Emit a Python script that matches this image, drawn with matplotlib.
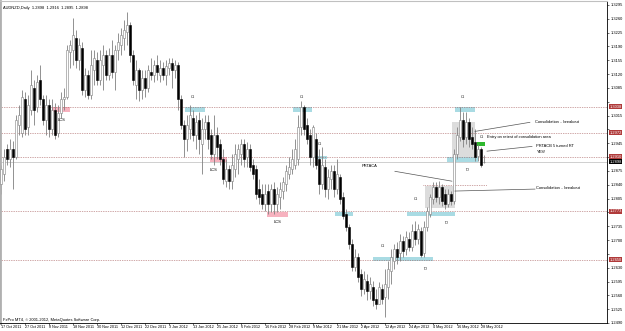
import matplotlib
matplotlib.use("Agg")
import matplotlib.pyplot as plt
from matplotlib.patches import Rectangle
from matplotlib.transforms import blended_transform_factory

plt.rcParams['font.family'] = ['Liberation Sans', 'DejaVu Sans']

symbol = "AUDNZD,Daily"
last_ohlc = [1.2898, 1.2916, 1.2895, 1.2898]

date_labels = ["17 Oct 2011", "27 Oct 2011", "8 Nov 2011", "18 Nov 2011", "30 Nov 2011",
               "12 Dec 2011", "22 Dec 2011", "3 Jan 2012", "13 Jan 2012", "25 Jan 2012",
               "6 Feb 2012", "16 Feb 2012", "28 Feb 2012", "9 Mar 2012", "21 Mar 2012",
               "2 Apr 2012", "12 Apr 2012", "24 Apr 2012", "4 May 2012", "16 May 2012",
               "28 May 2012"]

opens = [1.2841, 1.2866, 1.2930, 1.2904, 1.2930, 1.2910, 1.2992, 1.2972, 1.3056, 1.2985,
         1.3030, 1.3086, 1.3036, 1.3106, 1.3056, 1.3005, 1.3043, 1.2980, 1.3030, 1.2972,
         1.3022, 1.3056, 1.3063, 1.3177, 1.3182, 1.3212, 1.3156, 1.3187, 1.3081, 1.3118,
         1.3068, 1.3131, 1.3156, 1.3106, 1.3143, 1.3169, 1.3118, 1.3169, 1.3126, 1.3182,
         1.3194, 1.3212, 1.3227, 1.3244, 1.3169, 1.3093, 1.3131, 1.3081, 1.3111, 1.3086,
         1.3126, 1.3118, 1.3143, 1.3118, 1.3136, 1.3118, 1.3136, 1.3148, 1.3131, 1.3143,
         1.3056, 1.2992, 1.2955, 1.2980, 1.3010, 1.2967, 1.3005, 1.2942, 1.2980, 1.3000,
         1.2967, 1.2917, 1.2967, 1.2942, 1.2904, 1.2849, 1.2879, 1.2849, 1.2879, 1.2904,
         1.2917, 1.2942, 1.2910, 1.2930, 1.2891, 1.2879, 1.2829, 1.2816, 1.2791, 1.2824,
         1.2791, 1.2829, 1.2791, 1.2809, 1.2824, 1.2841, 1.2866, 1.2879, 1.2891, 1.2904,
         1.2985, 1.3036, 1.2992, 1.2967, 1.2910, 1.2955, 1.2904, 1.2841, 1.2884, 1.2829,
         1.2854, 1.2874, 1.2829, 1.2859, 1.2809, 1.2766, 1.2733, 1.2691, 1.2632, 1.2658,
         1.2614, 1.2577, 1.2597, 1.2572, 1.2582, 1.2552, 1.2539, 1.2577, 1.2557, 1.2582,
         1.2622, 1.2647, 1.2678, 1.2666, 1.2698, 1.2678, 1.2703, 1.2683, 1.2723, 1.2703,
         1.2723, 1.2666, 1.2733, 1.2766, 1.2804, 1.2834, 1.2809, 1.2834, 1.2816, 1.2791,
         1.2816, 1.2799, 1.2917, 1.2962, 1.3005, 1.2960, 1.3000, 1.2960, 1.2947, 1.2912,
         1.2930, 1.2898]

highs = [1.2891, 1.2930, 1.2942, 1.2955, 1.2950, 1.3017, 1.3043, 1.3081, 1.3076, 1.3068,
         1.3131, 1.3106, 1.3118, 1.3143, 1.3068, 1.3068, 1.3056, 1.3056, 1.3048, 1.3043,
         1.3076, 1.3086, 1.3194, 1.3207, 1.3262, 1.3232, 1.3212, 1.3202, 1.3136, 1.3131,
         1.3182, 1.3182, 1.3177, 1.3182, 1.3194, 1.3182, 1.3187, 1.3207, 1.3194, 1.3224,
         1.3237, 1.3257, 1.3277, 1.3252, 1.3182, 1.3156, 1.3136, 1.3131, 1.3131, 1.3143,
         1.3162, 1.3156, 1.3169, 1.3156, 1.3151, 1.3156, 1.3162, 1.3162, 1.3156, 1.3151,
         1.3068, 1.3005, 1.3017, 1.3043, 1.3030, 1.3017, 1.3025, 1.3010, 1.3017, 1.3017,
         1.2980, 1.3017, 1.2985, 1.2955, 1.2930, 1.2904, 1.2891, 1.2917, 1.2942, 1.2942,
         1.2955, 1.2955, 1.2947, 1.2942, 1.2904, 1.2891, 1.2854, 1.2841, 1.2841, 1.2841,
         1.2841, 1.2847, 1.2834, 1.2847, 1.2859, 1.2891, 1.2910, 1.2930, 1.2955, 1.3017,
         1.3051, 1.3043, 1.3010, 1.2980, 1.2992, 1.2972, 1.2930, 1.2935, 1.2904, 1.2879,
         1.2891, 1.2891, 1.2904, 1.2866, 1.2822, 1.2778, 1.2741, 1.2703, 1.2678, 1.2666,
         1.2627, 1.2622, 1.2614, 1.2607, 1.2597, 1.2577, 1.2594, 1.2589, 1.2627, 1.2647,
         1.2678, 1.2691, 1.2696, 1.2716, 1.2711, 1.2723, 1.2721, 1.2741, 1.2748, 1.2741,
         1.2733, 1.2748, 1.2784, 1.2816, 1.2847, 1.2847, 1.2849, 1.2841, 1.2829, 1.2829,
         1.2824, 1.2930, 1.2985, 1.3038, 1.3025, 1.3025, 1.3010, 1.2987, 1.2980, 1.2942,
         1.2935, 1.2916]

lows = [1.2816, 1.2849, 1.2891, 1.2884, 1.2829, 1.2904, 1.2967, 1.2962, 1.2967, 1.2967,
        1.3017, 1.2992, 1.3025, 1.3043, 1.2992, 1.2967, 1.2960, 1.2967, 1.2955, 1.2962,
        1.3010, 1.3030, 1.3056, 1.3136, 1.3143, 1.3136, 1.3131, 1.3068, 1.3061, 1.3056,
        1.3056, 1.3093, 1.3093, 1.3093, 1.3081, 1.3106, 1.3106, 1.3111, 1.3081, 1.3156,
        1.3169, 1.3182, 1.3194, 1.3151, 1.3093, 1.3056, 1.3051, 1.3056, 1.3061, 1.3076,
        1.3106, 1.3101, 1.3106, 1.3101, 1.3106, 1.3093, 1.3118, 1.3086, 1.3111, 1.3030,
        1.2980, 1.2910, 1.2925, 1.2955, 1.2950, 1.2930, 1.2917, 1.2866, 1.2955, 1.2930,
        1.2904, 1.2891, 1.2904, 1.2891, 1.2841, 1.2834, 1.2829, 1.2829, 1.2859, 1.2866,
        1.2891, 1.2884, 1.2884, 1.2874, 1.2854, 1.2804, 1.2791, 1.2778, 1.2773, 1.2766,
        1.2771, 1.2766, 1.2771, 1.2778, 1.2804, 1.2824, 1.2854, 1.2866, 1.2879, 1.2891,
        1.2967, 1.2967, 1.2942, 1.2891, 1.2884, 1.2879, 1.2816, 1.2829, 1.2809, 1.2804,
        1.2829, 1.2809, 1.2816, 1.2791, 1.2753, 1.2723, 1.2678, 1.2622, 1.2622, 1.2594,
        1.2559, 1.2564, 1.2547, 1.2552, 1.2532, 1.2526, 1.2537, 1.2539, 1.2506, 1.2552,
        1.2589, 1.2627, 1.2639, 1.2647, 1.2658, 1.2663, 1.2673, 1.2673, 1.2688, 1.2691,
        1.2658, 1.2658, 1.2723, 1.2758, 1.2791, 1.2796, 1.2791, 1.2786, 1.2778, 1.2784,
        1.2789, 1.2791, 1.2904, 1.2950, 1.2935, 1.2942, 1.2935, 1.2930, 1.2899, 1.2899,
        1.2884, 1.2895]

closes = [1.2879, 1.2910, 1.2904, 1.2930, 1.2910, 1.3005, 1.3017, 1.3063, 1.2980, 1.3043,
          1.3093, 1.3030, 1.3101, 1.3056, 1.3005, 1.3043, 1.2980, 1.3030, 1.2967, 1.3022,
          1.3056, 1.3063, 1.3182, 1.3194, 1.3219, 1.3156, 1.3194, 1.3081, 1.3118, 1.3068,
          1.3143, 1.3162, 1.3106, 1.3156, 1.3169, 1.3118, 1.3169, 1.3126, 1.3182, 1.3202,
          1.3219, 1.3232, 1.3244, 1.3169, 1.3106, 1.3131, 1.3081, 1.3111, 1.3086, 1.3131,
          1.3118, 1.3143, 1.3126, 1.3136, 1.3118, 1.3141, 1.3148, 1.3131, 1.3143, 1.3056,
          1.2992, 1.2955, 1.2992, 1.3017, 1.2967, 1.3000, 1.2955, 1.2980, 1.3000, 1.2955,
          1.2917, 1.2967, 1.2935, 1.2904, 1.2854, 1.2879, 1.2849, 1.2891, 1.2917, 1.2930,
          1.2942, 1.2904, 1.2930, 1.2886, 1.2866, 1.2816, 1.2809, 1.2791, 1.2816, 1.2791,
          1.2829, 1.2791, 1.2816, 1.2829, 1.2847, 1.2874, 1.2884, 1.2904, 1.2930, 1.2985,
          1.3038, 1.2980, 1.2955, 1.2910, 1.2985, 1.2891, 1.2841, 1.2891, 1.2829, 1.2859,
          1.2874, 1.2829, 1.2866, 1.2804, 1.2761, 1.2733, 1.2691, 1.2632, 1.2658, 1.2607,
          1.2577, 1.2602, 1.2572, 1.2589, 1.2547, 1.2539, 1.2582, 1.2552, 1.2589, 1.2627,
          1.2658, 1.2678, 1.2658, 1.2698, 1.2673, 1.2708, 1.2683, 1.2723, 1.2703, 1.2728,
          1.2663, 1.2733, 1.2773, 1.2809, 1.2834, 1.2809, 1.2834, 1.2799, 1.2791, 1.2816,
          1.2799, 1.2917, 1.2967, 1.3005, 1.2955, 1.3000, 1.2955, 1.2942, 1.2910, 1.2930,
          1.2891, 1.2898]

# horizontal levels drawn by hand in the terminal
levels = [1.3038, 1.2972, 1.2910, 1.2773, 1.2650]
bid = 1.2898

# zones: (first bar, last bar, low price, high price)
lcs_zones = [(17, 23, 1.3023, 1.3036), (69.7, 75.3, 1.2898, 1.2910), (88.7, 95.7, 1.2758, 1.2771)]
lcs_text = [(20.3, 1.3003), (70.7, 1.2877), (92.3, 1.2746)]
blue_zones = [(61.3, 68, 1.3023, 1.3036), (97.3, 103.7, 1.3023, 1.3036), (104.7, 108.7, 1.2904, 1.2912),
              (111.3, 117.3, 1.2761, 1.2771), (124, 144, 1.2647, 1.2658), (135.3, 151.3, 1.2761, 1.2771),
              (148.7, 159, 1.2897, 1.2910), (151.3, 158, 1.3023, 1.3036)]
grey_zones = [(141.3, 151.3, 1.2781, 1.2836), (150.3, 158, 1.2910, 1.3000)]
green_zone = (158.7, 161.3, 1.2937, 1.2947)
swing_highs = [(63.7, 1.3063), (100.3, 1.3063), (106.3, 1.2942), (127.3, 1.2686),
               (138, 1.2804), (153.7, 1.3063), (160, 1.2962)]
swing_lows = [(141.3, 1.2635), (148.3, 1.2751), (155.3, 1.2884)]

fs = 2.9
fig = plt.figure(figsize=(6.25, 3.31), dpi=100)
ax = fig.add_axes([0, 8 / 331, 607 / 625, 322 / 331])
ax.set_xlim(-0.33, 202)
ax.set_ylim(1.24936, 1.33051)

for x0, x1, lo, hi in grey_zones:
    ax.add_patch(Rectangle((x0, lo), x1 - x0, hi - lo, color="#dcdcdc", lw=0, zorder=0.5))
for x0, x1, lo, hi in blue_zones:
    ax.add_patch(Rectangle((x0, lo), x1 - x0, hi - lo, color="#a9dbe3", lw=0, zorder=0.6))
for x0, x1, lo, hi in lcs_zones:
    ax.add_patch(Rectangle((x0, lo), x1 - x0, hi - lo, color="#f7b2bf", lw=0, zorder=0.6))
gx0, gx1, glo, ghi = green_zone
ax.add_patch(Rectangle((gx0, glo), gx1 - gx0, ghi - glo, color="#2eb82e", lw=0, zorder=0.6))

for lv in levels:
    ax.axhline(lv, color="#a05050", ls=(0, (1, 1.5)), lw=0.5, zorder=1)
ax.plot([140.7, 162], [1.2839, 1.2839], color="#a05050", ls=(0, (1, 1.5)), lw=0.5, zorder=1)
ax.axhline(bid, color="#c8c8c8", lw=0.6, zorder=1)

# candles
idx = list(range(len(closes)))
ax.vlines(idx, lows, highs, color="#808080", lw=0.6, zorder=2)
bottoms = [min(o, c) for o, c in zip(opens, closes)]
heights = [max(abs(c - o), 0.00005) for o, c in zip(opens, closes)]
faces = ["white" if c >= o else "black" for o, c in zip(opens, closes)]
edges = ["#808080" if c >= o else "black" for o, c in zip(opens, closes)]
ax.bar(idx, heights, bottom=bottoms, width=0.55, color=faces, edgecolor=edges, linewidth=0.4, zorder=3)

# markers and notes
for x, y in swing_highs:
    ax.text(x, y, "Ω", fontsize=3.2, ha="center", va="center", color="#333333", zorder=4)
for x, y in swing_lows:
    ax.text(x, y, "Ω", fontsize=3.2, ha="center", va="center", color="#333333", rotation=180, zorder=4)
for x, y in lcs_text:
    ax.text(x, y, "LCS", fontsize=fs, ha="center", va="center", zorder=4)

line_kw = dict(color="#555555", lw=0.5, zorder=4)
ax.plot([158, 176.3], [1.2975, 1.2998], **line_kw)
ax.text(178, 1.3000, "Consolidation .. breakout", fontsize=fs, va="center", zorder=4)
ax.text(162, 1.2960, "Entry on retest of consolidation area", fontsize=fs, va="center", zorder=4)
ax.plot([162, 177], [1.2925, 1.2937], **line_kw)
ax.text(178.5, 1.2937, "PRTACB 5 turned RT", fontsize=fs, va="center", zorder=4)
ax.text(178.5, 1.2922, "YES!", fontsize=fs, va="center", zorder=4)
ax.plot([131.3, 150.3], [1.2874, 1.2849], **line_kw)
ax.text(123, 1.2887, "PRTACA", fontsize=fs, va="center", ha="center", zorder=4)
ax.plot([151.3, 178], [1.2824, 1.2829], **line_kw)
ax.text(178.5, 1.2832, "Consolidation .. breakout", fontsize=fs, va="center", zorder=4)

ax.text(0.005, 0.985, symbol + "  " + "  ".join(f"{v:.4f}" for v in last_ohlc),
        transform=ax.transAxes, fontsize=fs, va="top")
ax.text(0.005, 0.004, "FxPro MT4, © 2001-2012, MetaQuotes Software Corp.",
        transform=ax.transAxes, fontsize=fs, va="bottom")

# price scale; the level tags hide the scale labels they sit on
ax.yaxis.tick_right()
yt = [1.3295 - 0.0035 * k for k in range(24)]
tagged = levels + [bid]
ax.set_yticks(yt)
ax.set_yticklabels(["" if min(abs(v - t) for t in tagged) < 0.0017 else f"{v:.4f}" for v in yt])
ax.tick_params(axis="y", labelsize=fs, length=1.5, width=0.4, pad=1)
ax.set_xticks(range(0, 8 * len(date_labels), 8))
ax.set_xticklabels(date_labels)
for lbl in ax.get_xticklabels():
    lbl.set_ha("left")
ax.tick_params(axis="x", labelsize=2.7, length=1.2, width=0.4, pad=0.3)

tr = blended_transform_factory(ax.transAxes, ax.transData)
for lv in levels:
    ax.text(1.004, lv, f"{lv:.4f}", transform=tr, fontsize=fs, color="white", va="center",
            bbox=dict(boxstyle="square,pad=0.15", fc="#b03a3a", ec="none"), zorder=5, clip_on=False)
ax.text(1.004, bid, f"{bid:.4f}", transform=tr, fontsize=fs, color="white", va="center",
        bbox=dict(boxstyle="square,pad=0.15", fc="black", ec="none"), zorder=5, clip_on=False)

ax.spines["top"].set_color("#c0c0c0")
ax.spines["left"].set_color("#b0b0b0")
ax.spines["left"].set_linewidth(2)
ax.spines["right"].set_linewidth(0.6)
ax.spines["bottom"].set_linewidth(0.6)

fig.savefig("out.png", dpi=100)
